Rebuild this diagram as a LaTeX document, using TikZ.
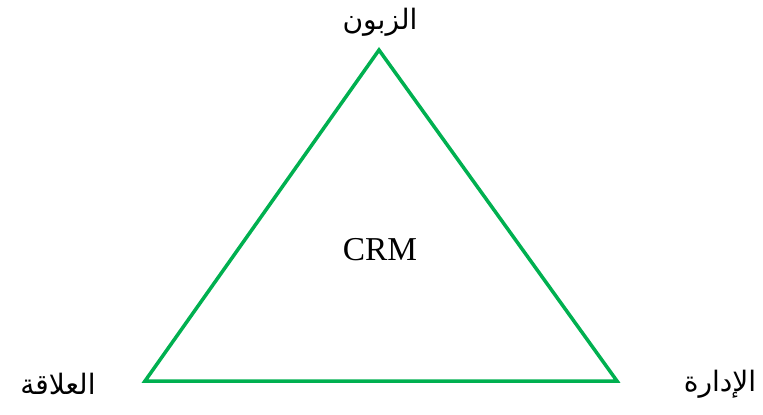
\documentclass[tikz,border=0pt]{standalone}
\usepackage{fontspec}
\setmainfont{Liberation Serif}
\newfontfamily\arabicfont[Script=Arabic]{DejaVu Sans}
\TeXXeTstate=1
\definecolor{crmgreen}{RGB}{0,176,80}

\begin{document}
\begin{tikzpicture}[x=0.02cm,y=0.02cm,
  side/.style={draw=crmgreen,line width=2pt,line join=miter},
  arlabel/.style={font=\arabicfont\fontsize{16}{19}\selectfont}]
\useasboundingbox (0,0) rectangle (763,414);
\coordinate (top) at (379,364);
\coordinate (bl) at (145,33);
\coordinate (br) at (617,33);
\draw[side] (top) -- (bl) -- (br) -- cycle;
\node[arlabel] (customer) at (380,392) {\beginR الزبون\endR};
\node[arlabel] (relation) at (58,30) {\beginR العلاقة\endR};
\node[arlabel] (manage) at (720,30) {\beginR الإدارة\endR};
\node[font=\fontsize{19}{22}\selectfont] (crm) at (380,164) {CRM};
\end{tikzpicture}
\end{document}
